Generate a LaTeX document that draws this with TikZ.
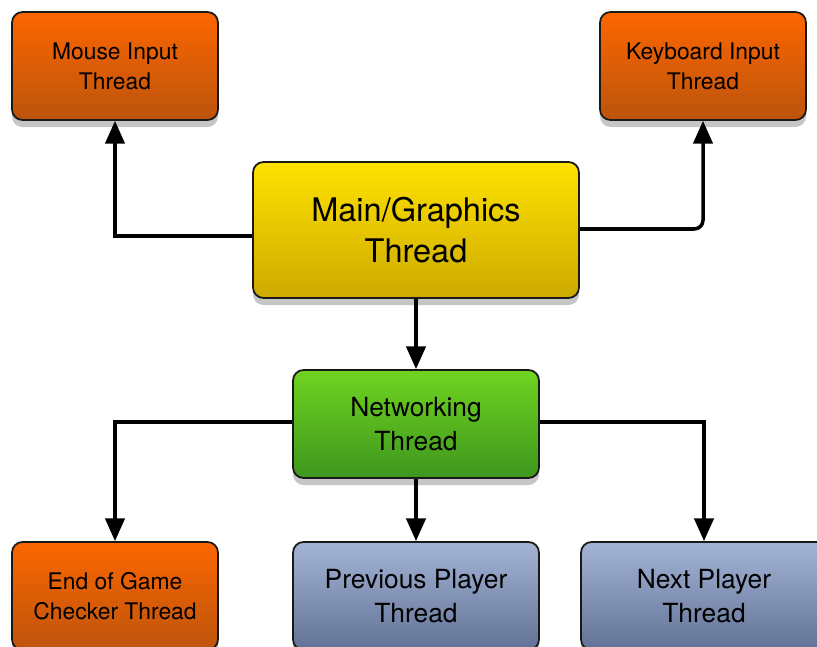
\documentclass[tikz,border=0pt]{standalone}
\usepackage{fontspec}
\setmainfont{TeX Gyre Heros}
\usetikzlibrary{arrows.meta,positioning,shadows}
\definecolor{aranciosu}{RGB}{252,102,0}
\definecolor{aranciogiu}{RGB}{188,84,12}
\definecolor{giallosu}{RGB}{255,226,0}
\definecolor{giallogiu}{RGB}{204,170,0}
\definecolor{verdesu}{RGB}{112,212,32}
\definecolor{verdegiu}{RGB}{62,150,30}
\definecolor{blusu}{RGB}{164,180,214}
\definecolor{blugiu}{RGB}{98,114,150}
\tikzset{
  filo/.style={draw=black!90,line width=1pt,rounded corners=6pt,align=center,
    inner sep=0pt,text=black,
    drop shadow={opacity=0.45,shadow xshift=0pt,shadow yshift=-4pt}},
  arancio/.style={filo,minimum width=4.12cm,minimum height=2.16cm,
    top color=aranciosu,bottom color=aranciogiu,font=\fontsize{13}{17}\selectfont},
  giallo/.style={filo,minimum width=6.52cm,minimum height=2.72cm,
    top color=giallosu,bottom color=giallogiu,font=\fontsize{18.5}{23}\selectfont},
  verde/.style={filo,minimum width=4.92cm,minimum height=2.16cm,
    top color=verdesu,bottom color=verdegiu,font=\fontsize{15}{19}\selectfont},
  blu/.style={filo,minimum width=4.92cm,minimum height=2.16cm,
    top color=blusu,bottom color=blugiu,font=\fontsize{15}{19}\selectfont},
  freccia/.style={draw,line width=2pt,-{Triangle[length=13pt,width=11pt]}}
}
\begin{document}
\begin{tikzpicture}
\useasboundingbox (0,0) rectangle (16.34,12.92);
\node[arancio] (mouse) at (2.30,11.60) {Mouse Input\\Thread};
\node[arancio] (tastiera) at (14.06,11.60) {Keyboard Input\\Thread};
\node[giallo] (grafica) at (8.32,8.32) {Main/Graphics\\Thread};
\node[verde] (rete) at (8.32,4.44) {Networking\\Thread};
\node[arancio] (fine) at (2.30,1.00) {End of Game\\Checker Thread};
\node[blu] (prec) at (8.32,1.00) {Previous Player\\Thread};
\node[blu] (succ) at (14.08,1.00) {Next Player\\Thread};
\draw[freccia] ([yshift=-0.12cm]grafica.west) -| (mouse.south);
\draw[freccia,rounded corners=5pt] ([yshift=0.02cm]grafica.east) -| (tastiera.south);
\draw[freccia] (grafica.south) -- (rete.north);
\draw[freccia] ([yshift=0.04cm]rete.west) -| (fine.north);
\draw[freccia] (rete.south) -- (prec.north);
\draw[freccia] ([yshift=0.04cm]rete.east) -| (succ.north);
\end{tikzpicture}
\end{document}
